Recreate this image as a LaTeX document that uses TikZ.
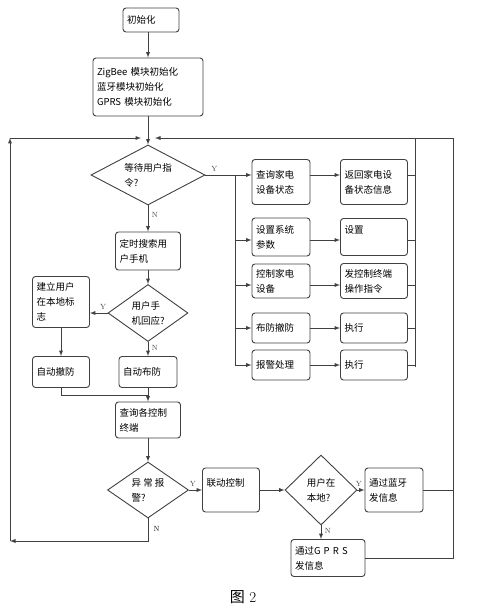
\documentclass[tikz,border=0pt]{standalone}
\usepackage{fontspec}
\newfontfamily\cjk{Noto Sans CJK SC}
\usepackage{tikz}
\usetikzlibrary{shapes.geometric,arrows,calc}
\tikzset{every picture/.append style={x=1pt,y=-1pt}}
\tikzset{box/.style={draw=black!75, line width=0.9pt, rounded corners=3pt, inner xsep=4pt, inner ysep=2pt, align=left, font=\cjk\fontsize{9.5}{15}\selectfont}}
\tikzset{dec/.style={draw=black!75, line width=0.9pt, diamond, inner sep=0pt, align=left, font=\cjk\fontsize{9.5}{15}\selectfont}}
\tikzset{edge/.style={line width=0.9pt, black!75}}
\tikzset{arc/.style={edge, -latex}}
\tikzset{yn/.style={font=\fontsize{7.5}{7.5}\selectfont}}

\begin{document}
\begin{tikzpicture}
\useasboundingbox (0,0) rectangle (481,609);
% main column
\node (n0) at (151,20)[box, text width=48pt, minimum height=24pt]{初始化};
\node (n1) at (148,87)[box, text width=102pt, minimum height=58pt]{ZigBee 模块初始化\\蓝牙模块初始化\\GPRS 模块初始化};
\coordinate (m) at (148,138);
\coordinate (ml) at (141,138);
\coordinate (mr) at (155,138);
\node (d1) at (148,175)[dec, aspect=1.9, minimum width=114pt, minimum height=60pt]{等待用户指\\令?};
\node (s1) at (148,251)[box, text width=57pt, minimum height=38pt]{定时搜索用\\户手机};
\node (d2) at (148,313)[dec, aspect=1.4, minimum width=80pt, minimum height=57pt]{用户手\\机回应?};
\node (b1) at (61,302)[box, text width=49pt, minimum height=51pt]{建立用户\\在本地标\\志};
\node (b2) at (61,372)[box, text width=49pt, minimum height=31pt]{自动撤防};
\node (b3) at (148,372)[box, text width=50pt, minimum height=31pt]{自动布防};
\coordinate (c1) at (148,395);
\node (q) at (148,420)[box, text width=57pt, minimum height=36pt]{查询各控制\\终端};
\node (d3) at (148,490)[dec, aspect=1.45, minimum width=81pt, minimum height=56pt]{异 常 报\\警?};
\node (l1) at (231,490)[box, text width=49pt, minimum height=44pt]{联动控制\\~};
\node (d4) at (321,490)[dec, aspect=1, minimum width=72pt, minimum height=70pt]{用户在\\本地?};
\node (bt) at (394,490)[box, text width=50pt, minimum height=44pt]{通过蓝牙\\发信息};
\node (bg) at (328,558)[box, text width=66pt, minimum height=37pt]{通过G P R S\\发信息};
% right columns
\node (r1a) at (281,182)[box, text width=50pt, minimum height=45pt]{查询家电\\设备状态};
\node (r1b) at (374,182)[box, text width=59pt, minimum height=45pt]{返回家电设\\备状态信息};
\node (r2a) at (281,237)[box, text width=50pt, minimum height=38pt]{设置系统\\参数};
\node (r2b) at (374,237)[box, text width=59pt, minimum height=37pt]{设置\\~};
\node (r3a) at (281,281)[box, text width=50pt, minimum height=34pt]{控制家电\\设备};
\node (r3b) at (374,281)[box, text width=59pt, minimum height=35pt]{发控制终端\\操作指令};
\node (r4a) at (281,328)[box, text width=50pt, minimum height=30pt]{布防撤防};
\node (r4b) at (374,328)[box, text width=59pt, minimum height=30pt]{执行};
\node (r5a) at (281,365)[box, text width=50pt, minimum height=30pt]{报警处理};
\node (r5b) at (374,365)[box, text width=59pt, minimum height=30pt]{执行};
\coordinate (y1) at (235,175);
\coordinate (y2) at (235,240);
\coordinate (y3) at (235,285);
\coordinate (y4) at (235,328);
\coordinate (y5) at (235,365);
\coordinate (i1) at (415,138);
\coordinate (i5) at (415,367);
\coordinate (o1) at (453,138);
\coordinate (lb) at (10,541);
\coordinate (lt) at (10,138);

\draw [arc](n1.north |- n0.south) -- (n1.north);
\draw [arc](n1.south) -- (d1.north);
\draw [arc](d1.south) -- (s1.north) node [yn, pos=0.35, right] {N};
\draw [arc](s1.south) -- (d2.north);
\draw [arc](d2.west) -- (d2.west -| b1.east) node [yn, pos=0.25, above] {Y};
\draw [arc](d2.south) -- (b3.north) node [yn, pos=0.4, right] {N};
\draw [arc](b1.south) -- (b2.north);
\draw [edge](b2.south) |- (c1);
\draw [arc](b3.south) -- (q.north);
\draw [arc](q.south) -- (d3.north);
\draw [arc](d3.east) -- (l1.west) node [yn, pos=0.3, above] {Y};
\draw [arc](l1.east) -- (d4.west);
\draw [arc](d4.east) -- (bt.west) node [yn, pos=0.2, above] {Y};
\draw [arc](d4.south) -- (d4.south |- bg.north) node [yn, pos=0.4, right] {N};
\draw [edge](bt.east) -- (bt.east -| o1);
\draw [edge](bg.east) -| (o1);
\draw [arc](o1) -- (mr);
\draw [edge](i5) -- (i1);
% loop back
\draw [arc](d3.south) -- (d3.south |- lb) -- (lb);
\node [yn, right] at ($(d3.south)+(2,10)$) {N};
\draw [arc](lb) -- (lt);
\draw [arc](lt) -- (ml);
% Y branch of the first test
\draw [edge](d1.east) -- (y1) node [yn, pos=0.3, above] {Y};
\draw [edge](y1) -- (y5);
\foreach \r in {1,...,5}{
  \draw [arc](y\r) -- (y\r -| r\r a.west);
  \draw [arc](y\r -| r\r a.east) -- (y\r -| r\r b.west);
  \draw [edge](y\r -| r\r b.east) -- (y\r -| i1);
}
\node (cap) at (243,597){\fontsize{15}{15}\selectfont{\cjk 图} 2};
\end{tikzpicture}
\end{document}
